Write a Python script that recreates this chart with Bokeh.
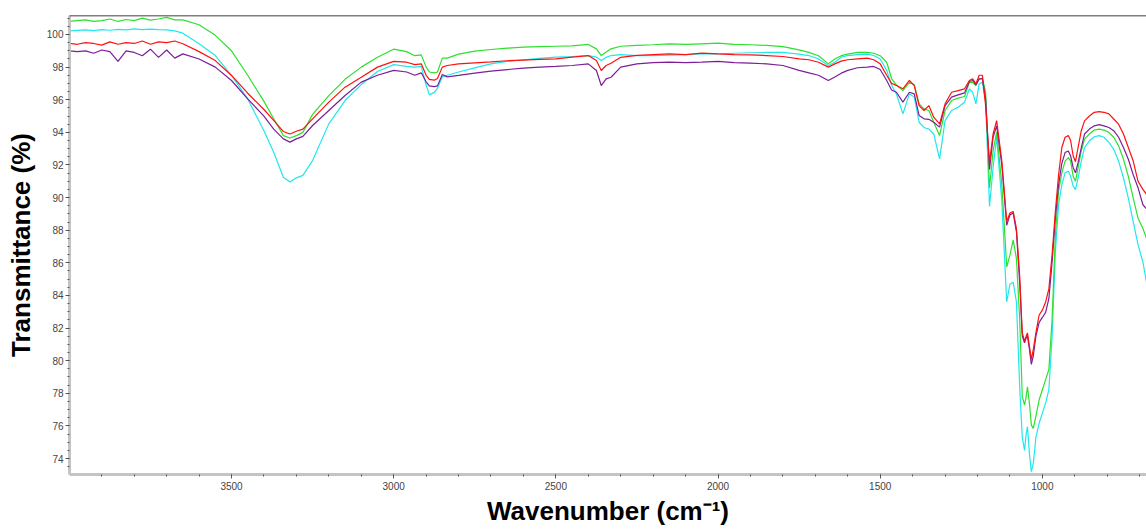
from bokeh.plotting import figure
from bokeh.models import Range1d, SingleIntervalTicker, Span
from bokeh.embed import file_html
from bokeh.resources import INLINE

wavenumber = [
    4000, 3975, 3950, 3925, 3900, 3875, 3850, 3825, 3800, 3775, 3750, 3725, 3700, 3675, 3650,
    3600, 3550, 3500, 3450, 3400, 3370, 3340, 3320, 3300, 3280, 3250, 3200, 3150, 3100,
    3050, 3000, 2960, 2935, 2915, 2900, 2890, 2875, 2865, 2850, 2835, 2800,
    2750, 2700, 2650, 2600, 2550, 2500, 2450, 2400, 2375, 2360, 2345, 2330, 2300,
    2250, 2200, 2150, 2100, 2050, 2000, 1950, 1900, 1850, 1800, 1750, 1720, 1690, 1660, 1640, 1620, 1600, 1570, 1540, 1520,
    1500, 1480, 1465, 1450, 1430, 1410, 1395, 1380, 1365, 1350, 1335, 1317, 1300, 1280, 1260, 1240, 1225, 1215, 1205, 1195, 1185, 1175,
    1163, 1152, 1141, 1125, 1110, 1100, 1090, 1080, 1070, 1062, 1055, 1050, 1046, 1040, 1034, 1028, 1020, 1010, 1000, 990, 980, 970,
    960, 950, 940, 930, 920, 913, 905, 898, 890, 880, 870, 855, 840, 825, 810, 795, 780, 765, 750, 735, 720, 705, 690, 679,
]

green = [
    100.80, 100.85, 100.90, 100.80, 100.85, 100.95, 100.80, 100.92, 100.85, 101.00, 100.88, 100.95, 101.05, 100.90, 100.90,
    100.6, 99.95, 99.0, 97.5, 95.9, 94.83, 93.8, 93.65, 93.8, 94.0, 95.1, 96.25, 97.25, 98.0,
    98.6, 99.1, 98.95, 98.7, 98.75, 98.0, 97.7, 97.65, 97.7, 98.55, 98.55, 98.8,
    98.98, 99.08, 99.16, 99.22, 99.26, 99.28, 99.3, 99.39, 99.12, 98.71, 98.92, 99.12, 99.28,
    99.33, 99.37, 99.43, 99.39, 99.43, 99.47, 99.39, 99.37, 99.33, 99.26, 99.06, 98.9, 98.7, 98.2, 98.5, 98.7, 98.8, 98.9, 98.9, 98.85,
    98.7, 98.3, 97.3, 96.9, 96.56, 97.07, 96.91, 95.75, 95.44, 95.34, 94.62, 93.8, 95.34, 95.95, 96.1, 96.2, 97.07, 97.07, 96.87, 97.28, 97.32, 96.46,
    90.59, 92.86, 94.0, 90.8, 85.75, 86.47, 87.4, 86.26, 82.55, 77.8, 77.29, 77.8, 78.4, 77.4, 76.05, 75.85, 76.6, 77.6, 78.22, 78.84, 79.46, 82.55,
    87.7, 90.4, 91.52, 92.24, 92.45, 92.24, 91.3, 91.0, 91.83, 92.86, 93.58, 93.9, 94.14, 94.2, 94.14, 94.0, 93.7, 93.17, 92.35, 91.3, 89.97, 88.74, 88.1, 87.5,
]

red = [
    99.45, 99.40, 99.50, 99.45, 99.35, 99.55, 99.40, 99.50, 99.45, 99.60, 99.40, 99.55, 99.50, 99.60, 99.43,
    98.95, 98.4, 97.49, 96.4, 95.4, 94.73, 94.05, 93.9, 94.07, 94.2, 94.83, 95.85, 96.77, 97.38,
    98.0, 98.35, 98.3, 98.15, 98.2, 97.5, 97.25, 97.2, 97.3, 98.0, 98.1, 98.2,
    98.26, 98.32, 98.39, 98.43, 98.47, 98.51, 98.61, 98.71, 98.4, 97.79, 98.1, 98.24, 98.6,
    98.72, 98.77, 98.81, 98.77, 98.86, 98.81, 98.77, 98.75, 98.71, 98.65, 98.51, 98.45, 98.3, 98.0, 98.2, 98.37, 98.45, 98.51, 98.55, 98.45,
    98.2, 97.5, 97.0, 96.87, 96.67, 97.18, 96.87, 95.64, 95.34, 95.64, 94.93, 94.52, 95.75, 96.46, 96.56, 96.67, 97.18, 97.28, 96.97, 97.5, 97.5, 95.64,
    92.14, 93.9, 94.72, 92.24, 88.53, 89.05, 89.15, 88.1, 85.2, 81.7, 81.2, 81.5, 81.7, 80.9, 80.08, 80.7, 81.7, 82.8, 83.1, 83.6, 84.4, 86.5,
    89.15, 91.4, 93.07, 93.7, 93.8, 93.5, 92.55, 92.2, 93.07, 94.1, 94.7, 95.0, 95.23, 95.27, 95.23, 95.13, 94.82, 94.5, 93.9, 93.07, 92.24, 91.0, 90.5, 90.2,
]

cyan = [
    100.22, 100.25, 100.28, 100.24, 100.30, 100.26, 100.32, 100.28, 100.35, 100.30, 100.33, 100.30, 100.28, 100.22, 100.08,
    99.43, 98.71, 97.49, 96.05, 94.1, 92.78, 91.25, 90.95, 91.21, 91.36, 92.27, 94.52, 95.95, 96.93,
    97.73, 98.15, 98.05, 98.0, 98.05, 96.9, 96.3, 96.45, 96.7, 97.4, 97.5, 97.7,
    97.95, 98.2, 98.35, 98.45, 98.53, 98.61, 98.65, 98.71, 98.61, 98.4, 98.6, 98.71, 98.77,
    98.7, 98.71, 98.73, 98.77, 98.81, 98.81, 98.85, 98.88, 98.9, 98.9, 98.8, 98.71, 98.5, 98.1, 98.3, 98.61, 98.71, 98.77, 98.8, 98.71,
    98.5, 97.8, 96.9, 96.35, 95.13, 96.36, 96.16, 94.62, 94.3, 94.2, 93.9, 92.37, 94.72, 95.34, 95.54, 95.85, 96.67, 96.46, 95.75, 96.97, 97.07, 95.85,
    89.46, 91.83, 93.7, 89.77, 83.6, 84.7, 84.8, 83.6, 78.4, 75.3, 74.5, 75.5, 75.95, 74.3, 73.2, 73.7, 75.3, 76.16, 76.78, 77.4, 78.22, 81.5,
    86.67, 89.56, 90.8, 91.52, 91.62, 91.3, 90.7, 90.49, 91.2, 92.24, 93.07, 93.48, 93.73, 93.8, 93.7, 93.38, 92.96, 92.24, 91.2, 89.97, 88.53, 87.1, 86.05, 84.8,
]

purple = [
    99.0, 98.95, 99.0, 98.85, 99.05, 98.95, 98.35, 99.0, 98.9, 98.7, 99.1, 98.6, 99.05, 98.55, 98.81,
    98.5, 98.0, 97.18, 96.05, 95.0, 94.2, 93.6, 93.4, 93.6, 93.75, 94.42, 95.34, 96.26, 97.08,
    97.5, 97.8, 97.7, 97.5, 97.65, 97.1, 96.85, 96.8, 96.85, 97.55, 97.4, 97.49,
    97.63, 97.75, 97.85, 97.94, 98.0, 98.04, 98.1, 98.2, 97.79, 96.87, 97.28, 97.38, 98.0,
    98.2, 98.27, 98.3, 98.28, 98.3, 98.35, 98.28, 98.24, 98.2, 98.1, 97.8, 97.65, 97.5, 97.18, 97.4, 97.63, 97.8, 97.96, 98.0, 98.04,
    97.85, 97.18, 96.6, 96.46, 95.85, 96.46, 96.36, 95.03, 94.83, 94.8, 94.62, 94.32, 95.64, 96.16, 96.3, 96.42, 97.12, 97.18, 96.91, 97.28, 97.28, 96.05,
    91.73, 93.7, 94.4, 92.0, 88.3, 88.94, 89.05, 87.9, 84.8, 81.5, 81.1, 81.4, 81.5, 80.7, 79.77, 80.3, 81.5, 82.35, 82.65, 82.96, 83.8, 86.05,
    88.74, 90.8, 92.1, 92.76, 92.86, 92.55, 91.83, 91.52, 92.14, 93.07, 93.9, 94.2, 94.4, 94.47, 94.4, 94.3, 94.1, 93.7, 93.07, 92.35, 91.4, 90.6, 89.56, 89.3,
]

series = [
    ("cyan", cyan, "#1ee8ee"),
    ("green", green, "#2ee02e"),
    ("purple", purple, "#7d1e98"),
    ("red", red, "#ff1010"),
]

FONT = "Liberation Sans"

p = figure(
    width=1146, height=531,
    output_backend="svg", toolbar_location=None,
    x_range=Range1d(3999.5, 679), y_range=Range1d(73.02, 101.165),
    min_border_left=69, min_border_right=0, min_border_top=15, min_border_bottom=57,
    background_fill_color="white", border_fill_color="white",
)
p.outline_line_color = None
p.xgrid.visible = False
p.ygrid.visible = False

for name, vals, col in series:
    p.line(wavenumber, vals, line_color=col, line_width=1.2)

p.add_layout(Span(location=101.165, dimension="width", line_color="black", line_width=1.6))

p.xaxis.ticker = SingleIntervalTicker(interval=500, num_minor_ticks=5)
p.yaxis.ticker = SingleIntervalTicker(interval=2, num_minor_ticks=4)

for ax in (p.xaxis[0], p.yaxis[0]):
    ax.axis_line_color = "#c4c4c4"
    ax.axis_line_width = 3
    ax.major_tick_line_color = "#555555"
    ax.minor_tick_line_color = "#555555"
    ax.major_tick_in = 0
    ax.major_tick_out = 4
    ax.minor_tick_in = 0
    ax.minor_tick_out = 2
    ax.major_label_text_font = FONT
    ax.major_label_text_font_size = "10px"
    ax.major_label_text_color = "#444444"
    ax.axis_label_text_font = FONT
    ax.axis_label_text_font_style = "bold"
    ax.axis_label_text_font_size = "26px"
    ax.axis_label_text_color = "black"

p.yaxis.major_label_standoff = 2
p.xaxis.major_label_standoff = 3
p.xaxis.axis_label = "Wavenumber (cm\u207b\u00b9)"
p.yaxis.axis_label = "Transmittance (%)"
p.xaxis.axis_label_standoff = 3
p.yaxis.axis_label_standoff = 8

open("out.html", "w").write(file_html(p, INLINE))
